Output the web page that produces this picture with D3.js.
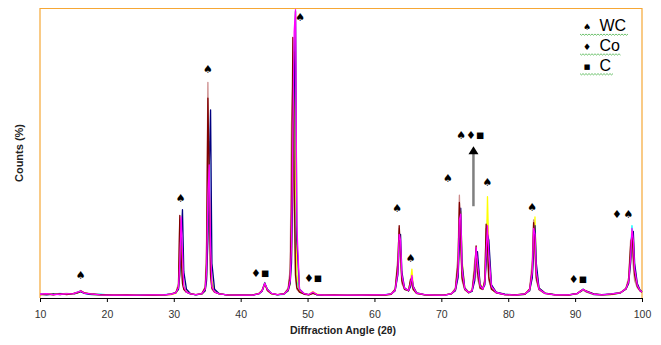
<!DOCTYPE html>
<html><head><meta charset="utf-8">
<script src="https://cdn.jsdelivr.net/npm/d3@7"></script>
<style>html,body{margin:0;padding:0;background:#fff;}svg{display:block;}</style>
</head><body><svg id="c" width="661" height="345"></svg>
<script>
// Diffraction angle grid (2θ)
const angles = [
 10,11,12,13,14,15,15.6,16.1,16.6,17.5,19,21,23,25,27,28.5,29.6,30.3,
 30.7,30.9,31.1,31.3,31.5,31.9,32.5,33.3,34.2,
 34.7,34.9,35.1,35.3,35.5,35.7,36.1,36.8,38,40,41.8,42.7,
 43.2,43.6,44.0,44.6,45.5,46.5,
 47.1,47.4,47.6,47.8,48.0,48.2,48.4,48.8,49.5,50.2,50.8,51.4,52.5,54,56,58,60,61.5,62.5,
 63.1,63.5,63.7,63.9,64.1,64.5,65.1,65.4,65.6,65.8,66.3,67.5,69,70.5,71.5,
 72.1,72.5,72.7,72.9,73.1,73.5,74.1,
 74.6,75.0,75.2,75.4,75.8,76.2,
 76.5,76.7,76.9,77.1,77.5,78.2,79.5,81,82.5,
 83.2,83.6,83.8,84.0,84.2,84.6,85.5,87,89,90.3,
 90.8,91.2,91.7,92.8,94,95.5,96.8,97.6,
 98.0,98.3,98.5,98.7,98.9,99.3,99.7,100
];
// Counts (%) per sample
const cyanSeries = [
 1.5,1.2,1.3,1.6,1.3,1.4,2.0,2.5,1.7,1.2,1.3,0.9,1.0,1.1,0.9,1.2,1.3,1.7,
 3,10,22,12,4,2,1.4,1.1,1.5,
 3,8,30,54,20,5,2.2,1.4,1.1,0.9,1.1,1.5,
 2.4,5.4,2.8,1.5,1.1,1.3,
 2.6,6,20,50,66,25,6,2.5,1.4,1.1,2.0,1.2,1.1,1.0,1.0,0.9,1.0,1.2,1.3,
 2.8,10,21,14,7,3,2.6,5,7.5,3.5,1.7,1.1,1.1,1.0,1.4,
 2.8,9,25,28,9,3,1.8,
 2.4,8,17,11,4,3,
 5,14,27,14,4,1.9,1.2,1.0,1.3,
 2.7,8,22,24,9,3.2,1.6,1.1,1.0,1.5,
 2.3,3.1,2.1,1.2,1.0,1.3,1.7,3.4,
 5.5,15,25,18,9,4.2,2.6,2
];
const yellowSeries = [
 1.1,1.3,1.5,1.2,1.4,1.5,1.7,2.3,1.9,1.3,1.0,1.2,1.0,1.0,1.2,1.1,1.2,1.6,
 3,9,18,13,4,2.2,1.5,1.2,1.4,
 2.5,7,25,38,22,6,2.4,1.5,1.0,1.0,1.0,1.6,
 2.6,4.6,2.7,1.4,1.2,1.5,
 2.4,5,15,45,85,45,8,2.6,1.5,1.2,2.2,1.3,1.0,1.0,1.1,1.0,1.1,1.0,1.4,
 2.6,9,20,17,7,3.2,2.8,6,10,4,1.8,1.2,1.0,1.1,1.5,
 2.6,8,20,30,13,3.6,2.0,
 2.6,7,15,13,5,3.4,
 5,13,35,16,4.2,2,1.2,1.1,1.5,
 2.6,8,20,28,10,3.4,1.7,1.2,1.1,1.6,
 2.1,2.9,2.5,1.3,1.2,1.2,1.8,3.1,
 5,13,23,20,10,4.5,2.7,2.1
];
const navySeries = [
 1.3,1.1,1.4,1.2,1.5,1.3,1.8,2.2,1.6,1.3,1.1,1.1,0.9,1.0,1.1,1.0,1.4,1.9,
 3,8,20,30.5,9,3,1.5,1.1,1.4,
 2.5,6,20,45,65,12,3,1.5,1.0,1.1,1.0,1.4,
 2.3,4.8,3.0,1.6,1.1,1.5,
 2.5,5,12,40,70,99,20,3,1.5,1.2,1.8,1.1,1.0,0.9,1.0,1.1,1.0,1.1,1.4,
 2.5,8,18,22,9,3.5,2.4,4,7,4,1.8,1.2,1.0,1.0,1.5,
 2.5,7,18,31,12,3.5,1.9,
 2.3,6,14,16,4.5,3.2,
 4.5,12,22,20,4.5,2,1.3,1.1,1.4,
 2.5,7,16,25,12,3.5,1.7,1.2,1.1,1.6,
 2.2,2.8,2.4,1.4,1.2,1.4,1.9,3.0,
 5,12,20,23,12,5,2.8,2.2
];
const roseSeries = [
 1.4,1.2,1.2,1.4,1.6,1.3,1.9,2.6,1.8,1.5,1.2,1.1,1.2,0.9,1.0,1.0,1.4,1.8,
 5,27,15,6,3,2,1.4,1.1,1.5,
 4,20,74.5,30,7,3,2,1.4,1.1,1.0,1.1,1.4,
 2.8,5.0,2.5,1.5,1.1,1.4,
 3.5,10,60,75,30,7,3,2,1.4,1.1,1.7,1.2,1.1,1.0,1.0,1.1,1.0,1.1,1.3,
 3.2,14,24,12,5,3,2.5,6,4.5,2.8,1.5,1.1,1.0,1.0,1.4,
 3.5,15,35.5,17,6,2.8,1.7,
 2.8,13,16,7,3.2,2.9,
 7,24,14,6,3,1.8,1.1,1.0,1.3,
 3.2,13,27,14,6,2.8,1.5,1.0,1.0,1.4,
 2.5,2.7,2.0,1.2,1.1,1.3,1.9,3.5,
 7,20,18,11,6,3.5,2.4,1.9
];
const maroonSeries = [
 1.2,1.4,1.1,1.5,1.2,1.6,1.9,2.4,1.8,1.4,1.2,1.0,1.1,0.9,1.0,1.1,1.3,1.8,
 4,28.5,14,5,3,2,1.4,1.2,1.5,
 3.5,12,69,40,8,3.5,2,1.4,1.1,1.0,1.1,1.5,
 2.5,5.2,2.6,1.5,1.2,1.4,
 3,8,30,90,40,8,3.5,2,1.3,1.1,1.6,1.2,1.0,1.1,0.9,1.0,1.1,1.0,1.3,
 3,12,25,16,6,3,2.5,6.5,5,3,1.6,1.1,1.0,1.1,1.4,
 3,12,33,20,7,3,1.8,
 2.5,10,18,9,3.5,3,
 6,25.5,18,7,3,1.8,1.2,1.0,1.3,
 3,10,26,18,7,3,1.6,1.1,1.0,1.5,
 2.4,3.0,2.2,1.3,1.1,1.3,1.8,3.2,
 6,18,22,15,8,4,2.5,2
];
const magentaSeries = [
 1.3,1.5,1.2,1.3,1.4,1.5,2.0,2.4,1.7,1.4,1.1,1.0,1.0,1.0,1.1,1.1,1.3,1.8,
 3.5,12,28,16,4,2,1.4,1.2,1.5,
 3,9,35,46,18,4,2.1,1.4,1.1,1.0,1.0,1.5,
 2.4,5.1,2.9,1.6,1.2,1.4,
 2.8,6,18,55,92,99.6,25,3,1.5,1.2,2.1,1.2,1.0,1.0,1.0,1.0,1.1,1.1,1.4,
 2.7,9,22,20,8,3.3,2.6,5,7.8,3.8,1.7,1.2,1.0,1.0,1.5,
 2.8,9,27,29,10,3.2,1.9,
 2.5,8,17.5,12,4.2,3.1,
 5,16,25,15,4,1.9,1.2,1.0,1.4,
 2.8,9,24,22,9,3.1,1.6,1.1,1.1,1.5,
 2.3,3.0,2.3,1.3,1.1,1.4,1.8,3.2,
 5.5,14,24,20,10,4.4,2.6,2.1
];
const seriesList = [cyanSeries, yellowSeries, navySeries, roseSeries, maroonSeries, magentaSeries];
const seriesColors = ["#00FFFF", "#FFFF00", "#000080", "#CC8C8C", "#800000", "#FF00FF"];

const xTicks = [10,20,30,40,50,60,70,80,90,100];

// Phase markers above peaks
const markLabels = ["\u2660","\u2660","\u2660","\u2666\u25A0","\u2660","\u2666\u25A0","\u2660","\u2660","\u2660","\u2660\u2666\u25A0","\u2660","\u2660","\u2666\u25A0","\u2666 \u2660"];
const markAngles = [16.1, 31.05, 35.1, 42.9, 48.9, 50.8, 63.4, 65.4, 71.0, 74.3, 76.9, 83.6, 90.4, 97.1];
const markCounts = [7.9, 34.5, 79, 8.7, 96.9, 6.9, 31, 13.8, 41.3, 56.2, 40, 31.4, 6.6, 29];

const arrowAngle = 74.8, arrowFrom = 31.7, arrowTo = 52.4;

const legendSymbols = ["\u2660", "\u2666", "\u25A0"];
const legendLabels = ["WC", "Co", "C"];

const svg = d3.select("#c");
const L = 40, R = 642, T = 8.5, B = 298;
const x = d3.scaleLinear().domain([10, 100]).range([L, R]);
const y = d3.scaleLinear().domain([0, 100]).range([B, T]);

// frame
svg.append("path").attr("d", `M${L},${B}V${T}H${R}V${B}`)
  .attr("fill", "none").attr("stroke", "#F6A735").attr("stroke-width", 1.2);

// lines
const line = d3.line().x((d, i) => x(angles[i])).y(d => y(d));
seriesList.forEach((s, k) => {
  svg.append("path").datum(s).attr("d", line)
    .attr("fill", "none").attr("stroke", seriesColors[k])
    .attr("stroke-width", 1.3).attr("stroke-linejoin", "round");
});

// x axis
const ax = svg.append("g").attr("transform", `translate(0,${B})`)
  .call(d3.axisBottom(x).tickValues(xTicks).tickSizeInner(4).tickSizeOuter(0).tickPadding(9));
ax.select(".domain").attr("stroke", "#000").attr("stroke-width", 1.2);
ax.selectAll(".tick line").attr("stroke", "#000");
ax.selectAll(".tick text").attr("font-family", "Liberation Sans, Arial, sans-serif")
  .attr("font-size", 10.5).attr("fill", "#333");

svg.append("text").attr("x", (L + R) / 2 + 2).attr("y", 334)
  .attr("text-anchor", "middle").attr("font-family", "Liberation Sans, Arial, sans-serif")
  .attr("font-weight", "bold").attr("font-size", 11).attr("fill", "#222")
  .attr("textLength", 106).attr("lengthAdjust", "spacingAndGlyphs")
  .text("Diffraction Angle (2\u03B8)");

svg.append("text").attr("transform", "translate(23,153) rotate(-90)")
  .attr("text-anchor", "middle").attr("font-family", "Liberation Sans, Arial, sans-serif")
  .attr("font-weight", "bold").attr("font-size", 11).attr("fill", "#222")
  .text("Counts (%)");

// markers
const marks = svg.selectAll("text.mark").data(markLabels).enter().append("text")
  .attr("class", "mark")
  .attr("x", (d, i) => x(markAngles[i])).attr("y", (d, i) => y(markCounts[i]))
  .attr("text-anchor", "middle").attr("dominant-baseline", "central")
  .attr("font-family", "DejaVu Sans, sans-serif").attr("font-size", 11)
  .attr("fill", "#000");
marks.each(function (d) {
  const el = d3.select(this);
  Array.from(d).forEach(ch => {
    const t = el.append("tspan").text(ch);
    if (ch === "\u25A0") t.attr("font-size", 8.5);
    if (ch === " ") t.attr("font-size", 5);
  });
});

// arrow
svg.append("line").attr("x1", x(arrowAngle)).attr("x2", x(arrowAngle))
  .attr("y1", y(arrowFrom)).attr("y2", y(arrowTo) + 6)
  .attr("stroke", "#7f7f7f").attr("stroke-width", 2.5);
const ax0 = x(arrowAngle), ay0 = y(arrowTo);
svg.append("path").attr("d", `M${ax0},${ay0}L${ax0 + 5},${ay0 + 8}L${ax0 - 5},${ay0 + 8}Z`)
  .attr("fill", "#000");

// legend
const lg = svg.append("g");
legendLabels.forEach((lab, i) => {
  const by = 31 + i * 19.8;
  lg.append("text").attr("x", 587).attr("y", by - 4).attr("text-anchor", "middle")
    .attr("dominant-baseline", "central").attr("font-family", "DejaVu Sans, sans-serif")
    .attr("font-size", i === 2 ? 7 : 9).text(legendSymbols[i]);
  const t = lg.append("text").attr("x", 599.5).attr("y", by)
    .attr("font-family", "Liberation Sans, Arial, sans-serif").attr("font-size", 16)
    .attr("fill", "#000").text(lab);
  const w = t.node().getComputedTextLength();
  const x0 = 580, x1 = 600 + w, yy = by + 3;
  let d = `M${x0},${yy}`;
  for (let xx = x0, k = 0; xx < x1; xx += 1.5, k++) d += `L${xx + 1.5},${yy + (k % 2 ? 0 : 1.3)}`;
  lg.append("path").attr("d", d).attr("fill", "none").attr("stroke", "#5DBB5D").attr("stroke-width", 0.9);
});
</script></body></html>
